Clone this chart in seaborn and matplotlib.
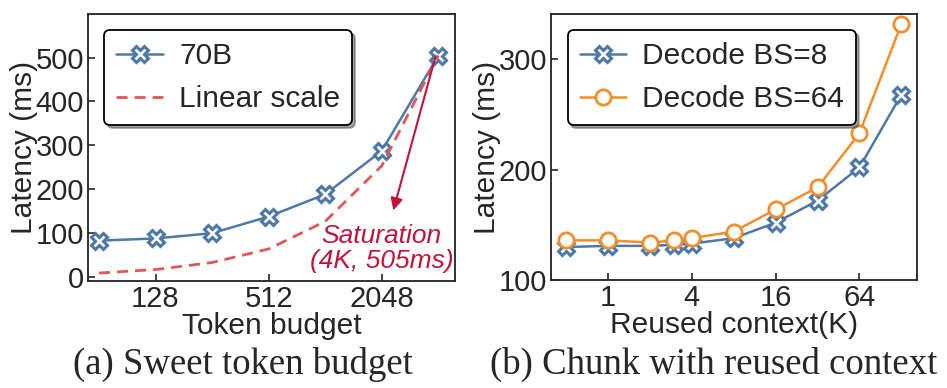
import pandas as pd
import matplotlib
matplotlib.use("Agg")
import matplotlib.pyplot as plt
import seaborn as sns

# (a) token budget sweep
token_budget = [64, 128, 256, 512, 1024, 2048, 4096]
latency_70b = [82, 87, 99, 137, 188, 287, 505]
linear_scale = [8, 16, 32, 63, 126, 253, 505]

# (b) reused context sweep
reused_ctx = [0.5, 1, 2, 3, 4, 8, 16, 32, 64, 128]
bs8 = [130, 131, 131, 132, 133, 138, 152, 172, 202, 268]
bs64 = [136, 136, 134, 136, 138, 144, 164, 184, 233, 332]

BLUE = "#4e79a7"
ORANGE = "#f28e2b"
RED = "#e15759"
DARK_RED = "#c0143c"

sns.set_style("ticks")
plt.rcParams["font.family"] = ["Liberation Sans", "DejaVu Sans"]
plt.rcParams["axes.linewidth"] = 1.3

fig = plt.figure(figsize=(9.47, 3.88), dpi=100)
ax1 = fig.add_axes([0.093, 0.276, 0.387, 0.688])
ax2 = fig.add_axes([0.582, 0.278, 0.386, 0.686])

legend_kw = dict(loc="upper left", fontsize=21.5, frameon=True, fancybox=True, shadow=True,
                 edgecolor="black", framealpha=1, handlelength=1.55, handletextpad=0.55,
                 borderaxespad=0.55, labelspacing=0.5, borderpad=0.4)

df_a = pd.DataFrame({"budget": token_budget, "70B": latency_70b, "Linear scale": linear_scale})
sns.lineplot(data=df_a, x="budget", y="70B", ax=ax1, color=BLUE, lw=1.8,
             marker="X", markersize=11, markerfacecolor="white",
             markeredgecolor=BLUE, markeredgewidth=2.2, label="70B")
sns.lineplot(data=df_a, x="budget", y="Linear scale", ax=ax1, color=RED, lw=2,
             linestyle=(0, (4, 2.5)), label="Linear scale")
ax1.set_xscale("log", base=2)
ax1.set_xlim(56, 5000)
ax1.set_ylim(-10, 600)
ax1.set_xticks([128, 512, 2048])
ax1.set_xticklabels(["128", "512", "2048"])
ax1.set_yticks([0, 100, 200, 300, 400, 500])
ax1.minorticks_off()
ax1.set_xlabel("Token budget", fontsize=21.5, labelpad=-1)
ax1.set_ylabel("Latency (ms)", fontsize=21.5, labelpad=-2)
ax1.annotate("", xy=(2340, 145), xytext=(4000, 510),
             arrowprops=dict(arrowstyle="-|>", color=DARK_RED, lw=1.5, mutation_scale=18))
ax1.text(2048, 64, "Saturation\n(4K, 505ms)", color=DARK_RED, fontsize=19,
         style="italic", ha="center", va="center", linespacing=1.05)
leg1 = ax1.legend(**legend_kw)
leg1.get_frame().set_linewidth(1.3)

df_b = pd.DataFrame({"ctx": reused_ctx, "bs8": bs8, "bs64": bs64})
sns.lineplot(data=df_b, x="ctx", y="bs8", ax=ax2, color=BLUE, lw=1.8,
             marker="X", markersize=11, markerfacecolor="white",
             markeredgecolor=BLUE, markeredgewidth=2.2, label="Decode BS=8")
sns.lineplot(data=df_b, x="ctx", y="bs64", ax=ax2, color=ORANGE, lw=1.8,
             marker="o", markersize=11, markerfacecolor="white",
             markeredgecolor=ORANGE, markeredgewidth=2, label="Decode BS=64")
ax2.set_xscale("log", base=2)
ax2.set_xlim(0.39, 165)
ax2.set_ylim(100, 341)
ax2.set_xticks([1, 4, 16, 64])
ax2.set_xticklabels(["1", "4", "16", "64"])
ax2.set_yticks([100, 200, 300])
ax2.minorticks_off()
ax2.set_xlabel("Reused context(K)", fontsize=21.5, labelpad=-1)
ax2.set_ylabel("Latency (ms)", fontsize=21.5, labelpad=-2)
leg2 = ax2.legend(**legend_kw)
leg2.get_frame().set_linewidth(1.3)

for ax in (ax1, ax2):
    ax.tick_params(direction="in", labelsize=21, length=5, width=1.2, pad=3)
    for s in ax.spines.values():
        s.set_visible(True)
        s.set_color("#222222")

fig.text(0.257, 0.062, "(a) Sweet token budget", fontsize=26.5,
         family=["Liberation Serif", "DejaVu Serif"], ha="center", va="center")
fig.text(0.754, 0.062, "(b) Chunk with reused context", fontsize=26.5,
         family=["Liberation Serif", "DejaVu Serif"], ha="center", va="center")

fig.savefig("out.png", dpi=100)
